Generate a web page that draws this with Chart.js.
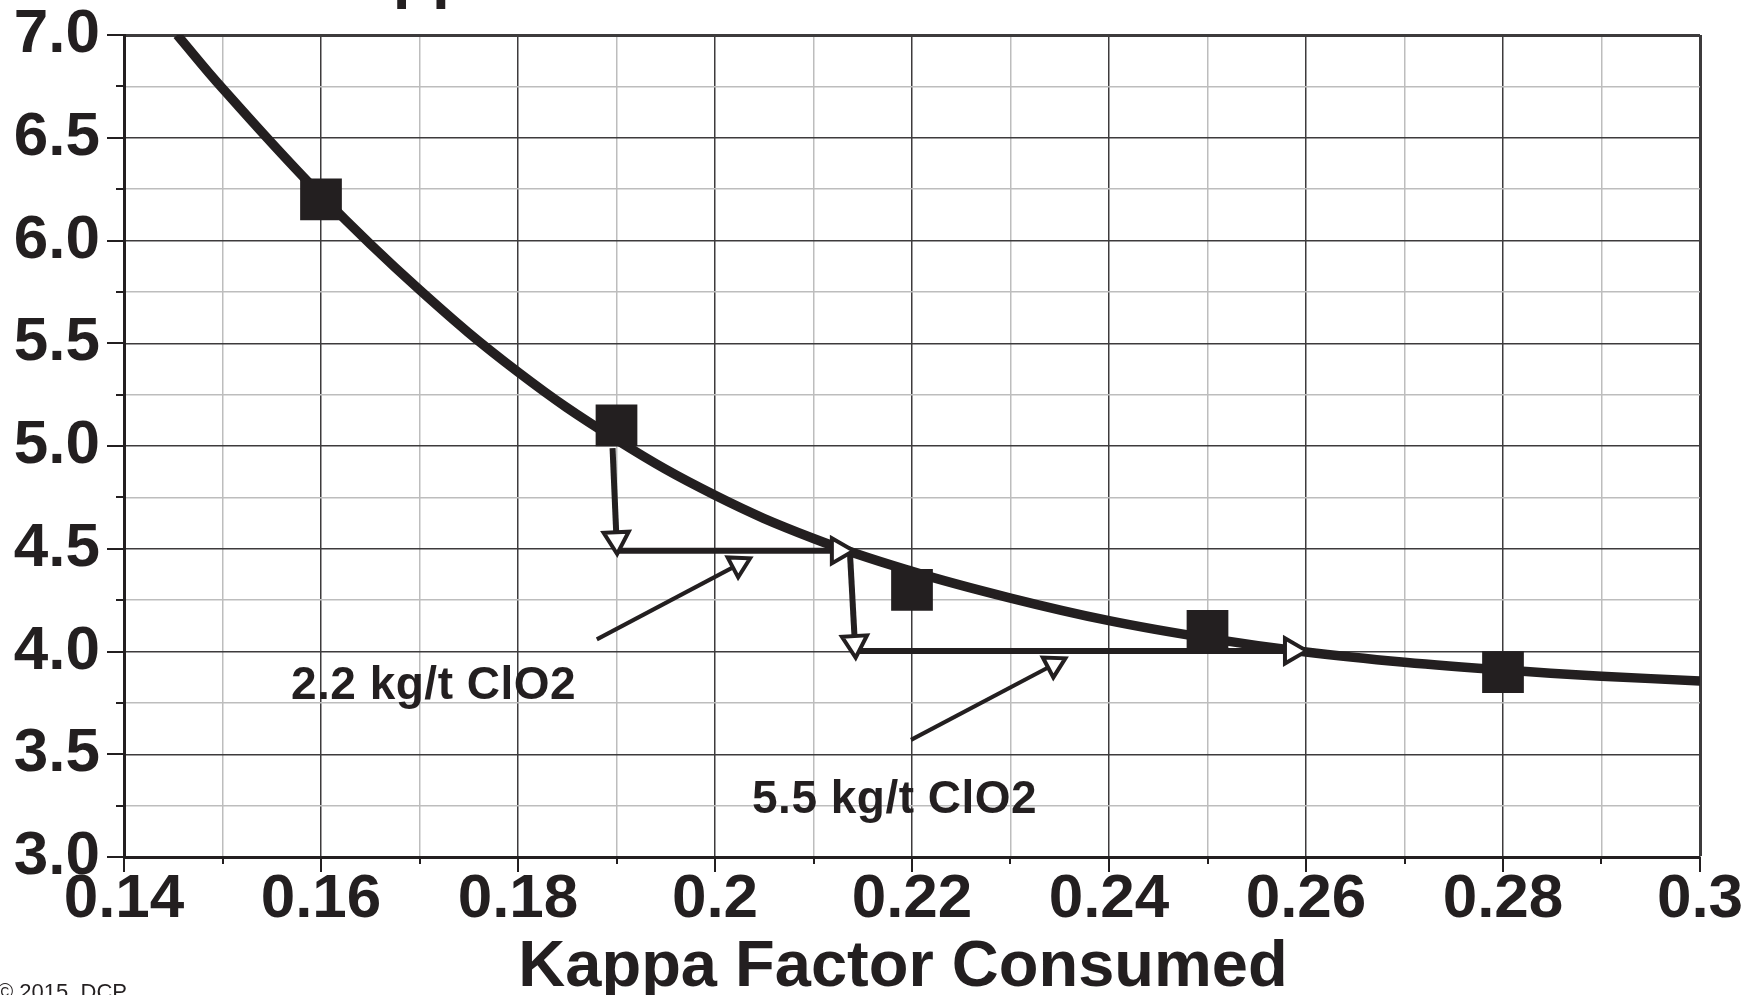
<!DOCTYPE html>
<html>
<head>
<meta charset="utf-8">
<title>Kappa Factor Consumed</title>
<script src="https://cdn.jsdelivr.net/npm/chart.js@4.4.0/dist/chart.umd.min.js"></script>
<style>
  html, body { margin: 0; padding: 0; background: #fff; }
  canvas { display: block; }
</style>
</head>
<body>
<canvas id="mycanvas" width="1760" height="995"></canvas>
<script>
// measured points
var kappaFactor = [0.16, 0.19, 0.22, 0.25, 0.28];
var kappaValue = [6.2, 5.1, 4.3, 4.1, 3.9];

// fitted curve, read along its length
var curveX = [0.1454, 0.15, 0.16, 0.17, 0.18, 0.19, 0.20, 0.21, 0.22, 0.23, 0.24, 0.25, 0.26, 0.27, 0.28, 0.29, 0.30];
var curveY = [7.0, 6.74, 6.22, 5.76, 5.36, 5.03, 4.76, 4.55, 4.39, 4.26, 4.15, 4.065, 3.998, 3.948, 3.91, 3.88, 3.857];

// step arrows and pointer arrows (start -> head)
var arrowFromX = [0.1896, 0.1900, 0.2137, 0.2147, 0.1880, 0.2199];
var arrowFromY = [4.99, 4.49, 4.48, 4.003, 4.059, 3.570];
var arrowToX = [0.1900, 0.2126, 0.2142, 0.2586, 0.2024, 0.2344];
var arrowToY = [4.545, 4.49, 4.04, 4.003, 4.424, 3.937];

var doseLabels = ['2.2 kg/t ClO2', '5.5 kg/t ClO2'];
var doseLabelX = [0.15695, 0.20376];
var doseLabelY = [3.768, 3.215];

var xTickLabels = ['0.14', '0.16', '0.18', '0.2', '0.22', '0.24', '0.26', '0.28', '0.3'];
var yTickLabels = ['3.0', '3.5', '4.0', '4.5', '5.0', '5.5', '6.0', '6.5', '7.0'];
var xTitle = 'Kappa Factor Consumed';

var ink = '#231f20';
var family = '"Liberation Sans", Arial, Helvetica, sans-serif';

function isMajor(i) { return i % 2 === 0; }

var datasets = [];

datasets.push({
	label: 'Data',
	data: kappaFactor.map(function(x, i) { return {x: x, y: kappaValue[i]}; }),
	showLine: false,
	pointStyle: 'rect',
	pointRadius: 29.5,
	pointBackgroundColor: ink,
	pointBorderWidth: 0,
	clip: false
});

for (var a = 0; a < arrowFromX.length; a++) {
	(function(a) {
		var pointer = a >= 4;
		datasets.push({
			label: 'arrow' + a,
			data: [{x: arrowFromX[a], y: arrowFromY[a]}, {x: arrowToX[a], y: arrowToY[a]}],
			borderColor: ink,
			borderWidth: pointer ? 4 : 6,
			pointStyle: 'triangle',
			pointRadius: [0, pointer ? 13 : 14.5],
			pointBackgroundColor: '#fff',
			pointBorderColor: ink,
			pointBorderWidth: 4,
			pointRotation: function(ctx) {
				var c = ctx.chart;
				var sx = c.scales.x, sy = c.scales.y;
				var dx = sx.getPixelForValue(arrowToX[a]) - sx.getPixelForValue(arrowFromX[a]);
				var dy = sy.getPixelForValue(arrowToY[a]) - sy.getPixelForValue(arrowFromY[a]);
				return Math.atan2(dx, -dy) * 180 / Math.PI;
			},
			clip: false
		});
	})(a);
}

datasets.push({
	label: 'Curve',
	data: curveX.map(function(x, i) { return {x: x, y: curveY[i]}; }),
	borderColor: ink,
	borderWidth: 9.5,
	pointRadius: 0,
	tension: 0.4
});

// tick marks, annotations and page text
var extras = {
	id: 'extras',
	afterDraw: function(chart) {
		var ctx = chart.ctx;
		var sx = chart.scales.x, sy = chart.scales.y;
		var area = chart.chartArea;
		ctx.save();
		ctx.strokeStyle = ink;
		ctx.lineWidth = 2;
		sx.ticks.forEach(function(t, i) {
			var px = Math.round(sx.getPixelForValue(t.value));
			ctx.beginPath();
			ctx.moveTo(px, area.bottom);
			ctx.lineTo(px, area.bottom + (isMajor(i) ? 15 : 7));
			ctx.stroke();
		});
		sy.ticks.forEach(function(t, i) {
			var py = Math.round(sy.getPixelForValue(t.value));
			ctx.beginPath();
			ctx.moveTo(area.left, py);
			ctx.lineTo(area.left - (isMajor(i) ? 17 : 8), py);
			ctx.stroke();
		});

		ctx.fillStyle = ink;
		ctx.textBaseline = 'alphabetic';
		ctx.textAlign = 'left';
		ctx.font = 'bold 46px ' + family;
		ctx.letterSpacing = '0.5px';
		doseLabels.forEach(function(txt, i) {
			ctx.fillText(txt, sx.getPixelForValue(doseLabelX[i]), sy.getPixelForValue(doseLabelY[i]));
		});
		ctx.letterSpacing = '0px';

		ctx.font = 'bold 64px ' + family;
		ctx.fillText('Kappa', 311, -4);

		ctx.textAlign = 'center';
		ctx.font = 'bold 65px ' + family;
		ctx.fillText(xTitle, 903, 986);

		ctx.textAlign = 'left';
		ctx.font = '22px ' + family;
		ctx.fillText('\u00a9 2015, DCP', -3, 999);
		ctx.restore();
	}
};

var ctx = document.getElementById('mycanvas');

var Graph = new Chart(ctx, {
	type: 'line',
	data: { datasets: datasets },
	plugins: [extras],
	options: {
		responsive: false,
		devicePixelRatio: 1,
		animation: false,
		events: [],
		layout: { padding: { top: 35, right: 60, left: 0, bottom: 0 } },
		plugins: {
			legend: { display: false },
			tooltip: { enabled: false }
		},
		scales: {
			x: {
				type: 'linear',
				min: 0.14,
				max: 0.3,
				afterFit: function(s) {
					s.height = 138;
					s.paddingLeft = 0;
					s.paddingRight = 0;
				},
				ticks: {
					stepSize: 0.01,
					autoSkip: false,
					maxRotation: 0,
					padding: 12,
					color: ink,
					font: { family: family, size: 62, weight: 'bold', lineHeight: 1 },
					callback: function(v, i) { return isMajor(i) ? xTickLabels[i / 2] : ''; }
				},
				grid: {
					drawTicks: false,
					color: function(c) { return isMajor(c.index) ? '#3d3b3c' : '#bdbdbd'; },
					lineWidth: function(c) { return c.index === 16 ? 3 : 1.5; }
				},
				border: { color: ink, width: 3 }
			},
			y: {
				type: 'linear',
				min: 3,
				max: 7,
				afterFit: function(s) {
					s.width = 124;
					s.paddingTop = 0;
					s.paddingBottom = 0;
				},
				ticks: {
					stepSize: 0.25,
					autoSkip: false,
					padding: 24,
					color: ink,
					font: { family: family, size: 62, weight: 'bold', lineHeight: 1 },
					callback: function(v, i) { return isMajor(i) ? yTickLabels[i / 2] : ''; }
				},
				grid: {
					drawTicks: false,
					color: function(c) { return isMajor(c.index) ? '#3d3b3c' : '#bdbdbd'; },
					lineWidth: function(c) { return c.index === 16 ? 3 : 1.5; }
				},
				border: { color: ink, width: 3 }
			}
		}
	}
});
</script>
</body>
</html>
